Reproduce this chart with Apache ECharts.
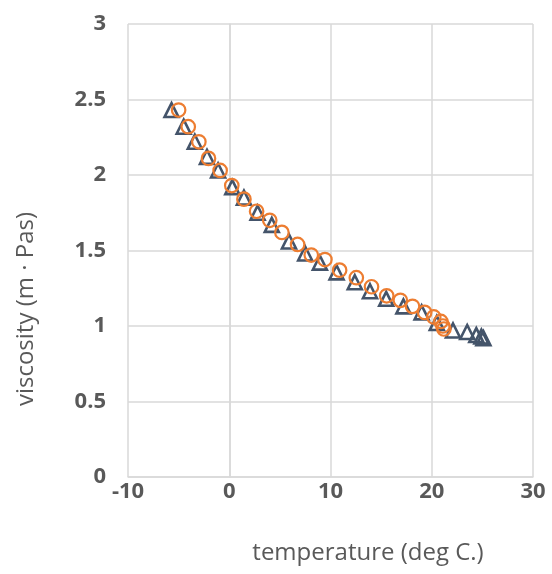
<!DOCTYPE html>
<html>
<head>
<meta charset="utf-8">
<script src="https://cdn.jsdelivr.net/npm/echarts@6/dist/echarts.min.js"></script>
<style>html,body{margin:0;padding:0;background:#fff}#c{width:552px;height:574px}</style>
</head>
<body>
<div id="c"></div>
<script>
var xTicks = [-10, 0, 10, 20, 30];
var yTicks = [0, 0.5, 1, 1.5, 2, 2.5, 3];
var triTemp = [-5.7,-4.5,-3.4,-2.2,-1.1,0.3,1.45,2.8,4.2,5.9,7.5,8.95,10.6,12.4,13.9,15.5,17.2,19.0,20.5,22.1,23.5,24.4,24.9,25.1];
var triVisc = [2.43,2.32,2.22,2.12,2.03,1.92,1.85,1.75,1.67,1.56,1.48,1.42,1.355,1.29,1.23,1.18,1.13,1.09,1.02,0.97,0.96,0.94,0.93,0.92];
var cirTemp = [-5.0,-4.05,-3.0,-2.05,-0.9,0.25,1.45,2.7,4.0,5.2,6.75,8.1,9.45,10.9,12.55,14.05,15.55,16.9,18.1,19.3,20.2,20.9,21.1,21.2];
var cirVisc = [2.43,2.32,2.22,2.11,2.03,1.93,1.84,1.76,1.70,1.62,1.54,1.47,1.44,1.37,1.32,1.26,1.20,1.17,1.13,1.09,1.06,1.03,1.0,0.98];
var xName = 'temperature (deg C.)';
var yName = 'viscosity (m \u00b7 Pas)';

function pairs(a, b) { return a.map(function (v, i) { return [v, b[i]]; }); }

var chart = echarts.init(document.getElementById('c'), null, {renderer: 'canvas'});
var lab = {color: '#595959', fontSize: 22, fontWeight: 'bold', fontFamily: 'Open Sans'};
chart.setOption({
  animation: false,
  grid: {left: 128, right: 19, top: 24, bottom: 97, containLabel: false},
  xAxis: {
    type: 'value', min: xTicks[0], max: xTicks[xTicks.length - 1], interval: 10,
    axisLine: {show: true, lineStyle: {color: '#d9d9d9', width: 1.5}},
    axisTick: {show: false},
    splitLine: {show: true, lineStyle: {color: '#d9d9d9', width: 1.5}},
    axisLabel: Object.assign({margin: 4}, lab)
  },
  yAxis: {
    type: 'value', min: yTicks[0], max: yTicks[yTicks.length - 1], interval: 0.5,
    axisLine: {show: true, lineStyle: {color: '#d9d9d9', width: 1.5}},
    axisTick: {show: false},
    splitLine: {show: true, lineStyle: {color: '#d9d9d9', width: 1.5}},
    axisLabel: Object.assign({margin: 22}, lab)
  },
  graphic: [
    {type: 'text', x: 368, y: 553, style: {text: xName, fill: '#595959', fontSize: 24, fontFamily: 'Open Sans', align: 'center', verticalAlign: 'middle'}},
    {type: 'text', x: 26, y: 309, rotation: Math.PI / 2, style: {text: yName, fill: '#595959', fontSize: 24, fontFamily: 'Open Sans', align: 'center', verticalAlign: 'middle'}}
  ],
  series: [
    {type: 'scatter', data: pairs(triTemp, triVisc), symbol: 'triangle', symbolSize: 14,
     itemStyle: {color: 'rgba(0,0,0,0)', borderColor: '#44546A', borderWidth: 2.6, opacity: 1}},
    {type: 'scatter', data: pairs(cirTemp, cirVisc), symbol: 'circle', symbolSize: 13.5,
     itemStyle: {color: 'rgba(0,0,0,0)', borderColor: '#ED7D31', borderWidth: 2.2, opacity: 1}}
  ]
});
</script>
</body>
</html>
